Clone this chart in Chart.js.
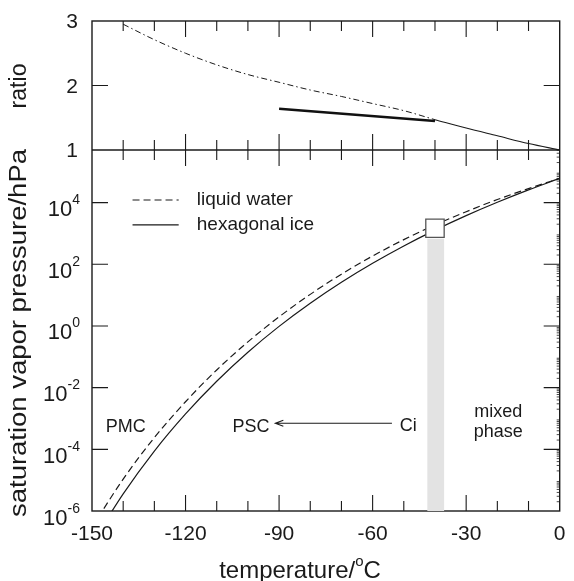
<!DOCTYPE html>
<html>
<head>
<meta charset="utf-8">
<script src="https://cdn.jsdelivr.net/npm/chart.js@4.4.0/dist/chart.umd.min.js"></script>
<style>
  html, body { margin: 0; padding: 0; background: #fff; }
</style>
</head>
<body>
<canvas id="vaporChart" width="574" height="581"></canvas>
<script>
// temperatures (deg C) for the two vapour pressure curves
const temps = [-150, -140, -130, -120, -110, -100, -90, -80, -70, -60, -50, -40, -30, -20, -10, 0];
// saturation vapour pressure
const liquidWater = [3.0e-7, 1.08e-5, 2.4e-4, 3.5e-3, 3.75e-2, 0.305, 1.98, 10.6, 47.9, 186, 632, 1890, 5090, 12600, 28600, 61100];
const hexIce = [9.0e-8, 3.6e-6, 8.8e-5, 1.41e-3, 1.62e-2, 0.141, 0.97, 5.48, 26.2, 108, 394, 1285, 3800, 10300, 26000, 61100];

// upper panel: ratio liquid / ice
const ratioColdTemps = [-140, -130, -120, -110, -100, -90, -80, -70, -60, -50, -40];
const ratioCold = [2.95, 2.71, 2.50, 2.32, 2.17, 2.05, 1.93, 1.83, 1.72, 1.61, 1.47];
const ratioWarmTemps = [-40, -30, -20, -10, 0];
const ratioWarm = [1.47, 1.34, 1.22, 1.10, 1.00];
const homTemps = [-90, -40];
const homRatio = [1.64, 1.45];

// homogeneous freezing band and marker
const bandTemps = [-42.5, -37];
const bandTop = [680, 680];
const markerTemp = [-40];
const markerPressure = [1480];

// ticks
const xTicks = [-150, -120, -90, -60, -30, 0];
const xMinorTicks = [-140, -130, -110, -100, -80, -70, -50, -40, -20, -10];
const ratioTicks = [1, 2, 3];
const pressureTicks = [1e-6, 1e-4, 1e-2, 1, 1e2, 1e4];

const FONT = '"Liberation Sans", Arial, Helvetica, sans-serif';
const INK = '#1a1a1a';

function pts(xs, ys) {
  return xs.map((x, i) => ({ x: x, y: ys[i] }));
}

// rotated text stretched to a given length
function sideText(ctx, str, cx, cy, size, len) {
  ctx.save();
  ctx.font = size + 'px ' + FONT;
  const w = ctx.measureText(str).width;
  ctx.translate(cx, cy);
  ctx.rotate(-Math.PI / 2);
  ctx.scale(len / w, 1);
  ctx.textAlign = 'center';
  ctx.textBaseline = 'middle';
  ctx.fillText(str, 0, 0);
  ctx.restore();
}

// frame and inward ticks, drawn before the datasets (grey band covers them)
const framePlugin = {
  id: 'frame',
  beforeDatasetsDraw(chart) {
    const ctx = chart.ctx;
    const a = chart.chartArea;
    const x = chart.scales.x, yR = chart.scales.yR, yP = chart.scales.yP;
    const mid = yR.bottom;
    ctx.save();
    ctx.strokeStyle = INK;
    ctx.lineWidth = 1.4;
    ctx.strokeRect(a.left, a.top, a.right - a.left, a.bottom - a.top);
    ctx.beginPath();
    ctx.moveTo(a.left, mid); ctx.lineTo(a.right, mid);
    ctx.stroke();

    ctx.lineWidth = 1.1;
    ctx.beginPath();
    const xt = (v, len) => {
      const px = x.getPixelForValue(v);
      ctx.moveTo(px, a.top); ctx.lineTo(px, a.top + len);
      ctx.moveTo(px, mid); ctx.lineTo(px, mid - len);
      ctx.moveTo(px, mid); ctx.lineTo(px, mid + len);
      ctx.moveTo(px, a.bottom); ctx.lineTo(px, a.bottom - len);
    };
    xTicks.slice(1, -1).forEach(v => xt(v, 16));
    xMinorTicks.forEach(v => xt(v, 10));
    const yt = (py, len) => {
      ctx.moveTo(a.left, py); ctx.lineTo(a.left + len, py);
      ctx.moveTo(a.right, py); ctx.lineTo(a.right - len, py);
    };
    yt(yR.getPixelForValue(2), 16);
    pressureTicks.slice(1).forEach(v => yt(yP.getPixelForValue(v), 16));
    ctx.stroke();

    // minor log ticks on the right edge
    ctx.lineWidth = 0.8;
    ctx.beginPath();
    for (let e = -6; e <= 5; e++) {
      for (let k = 2; k <= 9; k++) {
        const v = k * Math.pow(10, e);
        if (v > yP.max) continue;
        const py = yP.getPixelForValue(v);
        ctx.moveTo(a.right, py); ctx.lineTo(a.right - 3, py);
      }
    }
    ctx.stroke();
    ctx.restore();
  }
};

// tick labels, titles, legend and annotations
const textPlugin = {
  id: 'texts',
  afterDatasetsDraw(chart) {
    const ctx = chart.ctx;
    const x = chart.scales.x, yP = chart.scales.yP, yR = chart.scales.yR;
    ctx.save();
    ctx.fillStyle = INK;
    ctx.strokeStyle = INK;

    // x tick labels
    ctx.font = '21px ' + FONT;
    ctx.textAlign = 'center';
    ctx.textBaseline = 'alphabetic';
    xTicks.forEach(v => ctx.fillText(String(v), x.getPixelForValue(v), 540));

    // ratio tick labels
    ctx.textAlign = 'right';
    ctx.textBaseline = 'middle';
    ratioTicks.forEach(v => ctx.fillText(String(v), 78, yR.getPixelForValue(v) + 1.5));

    // 10^n labels
    ctx.textBaseline = 'alphabetic';
    pressureTicks.forEach(v => {
      const py = yP.getPixelForValue(v);
      const exp = String(Math.round(Math.log10(v)));
      ctx.font = '14px ' + FONT;
      const ew = ctx.measureText(exp).width;
      ctx.fillText(exp, 80, py + 1.5);
      ctx.font = '22px ' + FONT;
      ctx.fillText('10', 80 - ew, py + 13.5);
    });

    // axis titles
    sideText(ctx, 'ratio', 20, 86, 23, 45);
    sideText(ctx, 'saturation vapor pressure/hPa', 20, 333, 23, 368);

    // x title with superscript o
    ctx.textBaseline = 'alphabetic';
    ctx.textAlign = 'left';
    ctx.font = '24px ' + FONT;
    const t1 = 'temperature/';
    const w1 = ctx.measureText(t1).width;
    ctx.font = '15px ' + FONT;
    const wo = ctx.measureText('o').width;
    ctx.font = '24px ' + FONT;
    const wc = ctx.measureText('C').width;
    const tx = 300 - (w1 + wo + wc) / 2;
    ctx.fillText(t1, tx, 578);
    ctx.font = '15px ' + FONT;
    ctx.fillText('o', tx + w1, 566);
    ctx.font = '24px ' + FONT;
    ctx.fillText('C', tx + w1 + wo, 578);

    // legend
    ctx.lineWidth = 1.2;
    const ly1 = yP.getPixelForValue(1.22e4), ly2 = yP.getPixelForValue(1.9e3);
    const lx1 = x.getPixelForValue(-137), lx2 = x.getPixelForValue(-122.2);
    ctx.setLineDash([7, 4]);
    ctx.beginPath(); ctx.moveTo(lx1, ly1); ctx.lineTo(lx2, ly1); ctx.stroke();
    ctx.setLineDash([]);
    ctx.beginPath(); ctx.moveTo(lx1, ly2); ctx.lineTo(lx2, ly2); ctx.stroke();
    ctx.font = '19px ' + FONT;
    ctx.textBaseline = 'middle';
    ctx.fillText('liquid water', x.getPixelForValue(-116.4), ly1);
    ctx.fillText('hexagonal ice', x.getPixelForValue(-116.4), ly2);

    // annotations
    ctx.font = '18px ' + FONT;
    ctx.textAlign = 'center';
    ctx.fillText('PMC', x.getPixelForValue(-139.2), yP.getPixelForValue(5.3e-4));
    ctx.fillText('PSC', x.getPixelForValue(-99), yP.getPixelForValue(5.4e-4));
    ctx.fillText('Ci', x.getPixelForValue(-48.6), yP.getPixelForValue(5.8e-4));
    ctx.fillText('mixed', x.getPixelForValue(-19.7), yP.getPixelForValue(1.6e-3));
    ctx.fillText('phase', x.getPixelForValue(-19.7), yP.getPixelForValue(3.7e-4));

    // arrow Ci -> PSC
    const ay = yP.getPixelForValue(7.0e-4);
    const tip = x.getPixelForValue(-91.2), tail = x.getPixelForValue(-53.8);
    ctx.lineWidth = 1.1;
    ctx.beginPath();
    ctx.moveTo(tail, ay); ctx.lineTo(tip, ay);
    ctx.moveTo(tip + 8, ay - 3); ctx.lineTo(tip, ay); ctx.lineTo(tip + 8, ay + 3);
    ctx.stroke();
    ctx.restore();
  }
};

const ctx = document.getElementById('vaporChart').getContext('2d');
const vaporChart = new Chart(ctx, {
  type: 'line',
  data: {
    datasets: [
      {
        label: 'marker',
        data: pts(markerTemp, markerPressure),
        yAxisID: 'yP',
        showLine: false,
        pointStyle: 'rect',
        pointRadius: 13,
        backgroundColor: '#ffffff',
        borderColor: '#555555',
        borderWidth: 1.3,
        order: 0
      },
      {
        label: 'liquid water',
        data: pts(temps, liquidWater),
        yAxisID: 'yP',
        borderColor: INK,
        borderWidth: 1.2,
        borderDash: [7, 4],
        pointRadius: 0,
        cubicInterpolationMode: 'monotone',
        order: 2
      },
      {
        label: 'hexagonal ice',
        data: pts(temps, hexIce),
        yAxisID: 'yP',
        borderColor: INK,
        borderWidth: 1.2,
        pointRadius: 0,
        cubicInterpolationMode: 'monotone',
        order: 2
      },
      {
        label: 'band',
        data: pts(bandTemps, bandTop),
        yAxisID: 'yP',
        borderWidth: 0,
        borderColor: 'rgba(0,0,0,0)',
        backgroundColor: '#e3e3e3',
        fill: 'start',
        pointRadius: 0,
        order: 5
      },
      {
        label: 'ratio cold',
        data: pts(ratioColdTemps, ratioCold),
        yAxisID: 'yR',
        borderColor: INK,
        borderWidth: 1,
        borderDash: [6, 3, 1.5, 3],
        pointRadius: 0,
        cubicInterpolationMode: 'monotone',
        order: 3
      },
      {
        label: 'ratio warm',
        data: pts(ratioWarmTemps, ratioWarm),
        yAxisID: 'yR',
        borderColor: INK,
        borderWidth: 1.1,
        pointRadius: 0,
        cubicInterpolationMode: 'monotone',
        order: 3
      },
      {
        label: 'homogeneous',
        data: pts(homTemps, homRatio),
        yAxisID: 'yR',
        borderColor: '#111',
        borderWidth: 2.6,
        pointRadius: 0,
        order: 3
      }
    ]
  },
  options: {
    responsive: false,
    animation: false,
    devicePixelRatio: 1,
    layout: { padding: { top: 21, right: 6.5, left: 0, bottom: 0 } },
    plugins: { legend: { display: false }, tooltip: { enabled: false } },
    scales: {
      x: {
        type: 'linear',
        min: -150,
        max: 0,
        grid: { display: false, drawTicks: false },
        border: { display: false },
        ticks: { display: false },
        afterFit: s => { s.height = 70; }
      },
      yP: {
        type: 'logarithmic',
        position: 'left',
        stack: 'panels',
        stackWeight: 361,
        min: 1e-6,
        max: 5.1e5,
        grid: { display: false, drawTicks: false },
        border: { display: false },
        ticks: { display: false },
        afterFit: s => { s.width = 92; }
      },
      yR: {
        type: 'linear',
        position: 'left',
        stack: 'panels',
        stackWeight: 129,
        min: 1,
        max: 3,
        grid: { display: false, drawTicks: false },
        border: { display: false },
        ticks: { display: false },
        afterFit: s => { s.width = 92; }
      }
    }
  },
  plugins: [framePlugin, textPlugin]
});
</script>
</body>
</html>
